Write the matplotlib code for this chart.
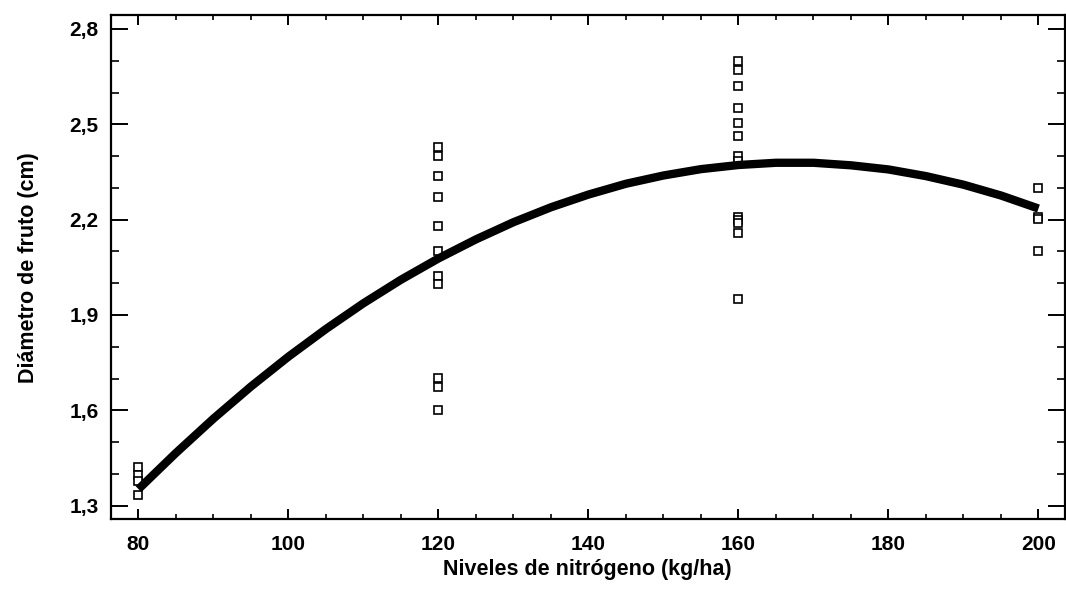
import numpy as np
import matplotlib
matplotlib.use("Agg")
import matplotlib.pyplot as plt
from matplotlib import font_manager
from matplotlib.ticker import MultipleLocator, FuncFormatter

# observed fruit diameters per nitrogen level
x80 = [80, 80, 80, 80]
y80 = [1.423, 1.397, 1.376, 1.334]
x120 = [120] * 11
y120 = [2.428, 2.400, 2.338, 2.270, 2.180, 2.102, 2.024, 1.998, 1.701, 1.673, 1.601]
x160 = [160] * 13
y160 = [2.700, 2.671, 2.621, 2.552, 2.503, 2.463, 2.401, 2.386, 2.209, 2.199, 2.189, 2.159, 1.950]
x200 = [200] * 4
y200 = [2.299, 2.209, 2.202, 2.102]

# fitted curve
curve_x = [80, 85, 90, 95, 100, 105, 110, 115, 120, 125, 130, 135, 140,
           145, 150, 155, 160, 165, 170, 175, 180, 185, 190, 195, 200]
curve_y = [1.352, 1.466, 1.574, 1.675, 1.769, 1.856, 1.937, 2.011, 2.078, 2.138,
           2.192, 2.239, 2.279, 2.313, 2.339, 2.359, 2.372, 2.379, 2.379, 2.371,
           2.358, 2.337, 2.310, 2.276, 2.235]

y_ticks = [1.3, 1.6, 1.9, 2.2, 2.5, 2.8]

try:
    font_manager.findfont("Liberation Sans Narrow", fallback_to_default=False)
    fam = ["Liberation Sans Narrow", "DejaVu Sans"]
    tsize, lsize = 14.5, 15.5
except Exception:
    fam = ["Liberation Sans", "DejaVu Sans"]
    tsize, lsize = 15, 15.5

plt.rcParams["font.family"] = fam
plt.rcParams["font.weight"] = "bold"

fig = plt.figure(figsize=(10.66, 5.91), dpi=100)
ax = fig.add_axes([0.1041, 0.1213, 0.8945, 0.8533])

xs = x80 + x120 + x160 + x200
ys = y80 + y120 + y160 + y200
ax.plot(xs, ys, ls="none", marker="s", ms=5.2, mfc="white", mec="black", mew=1.2, zorder=2)
ax.plot(curve_x, curve_y, color="black", lw=6, solid_capstyle="butt", zorder=3)

ax.set_xlim(76.33, 203.47)
ax.set_ylim(1.257, 2.844)

ax.xaxis.set_major_locator(MultipleLocator(20))
ax.xaxis.set_minor_locator(MultipleLocator(5))
ax.set_yticks(y_ticks)
ax.yaxis.set_minor_locator(MultipleLocator(0.1))
ax.yaxis.set_major_formatter(FuncFormatter(lambda v, p: ("%.1f" % v).replace(".", ",")))

ax.tick_params(axis="x", which="major", direction="in", length=7, width=1.4,
               top=True, labelsize=tsize, pad=11)
ax.tick_params(axis="x", which="minor", direction="in", length=3.6, width=1.2, top=True)
ax.tick_params(axis="y", which="major", direction="in", length=12, width=1.4,
               right=True, labelsize=tsize, pad=9)
ax.tick_params(axis="y", which="minor", direction="in", length=5.8, width=1.2, right=True)
for lab in ax.get_xticklabels() + ax.get_yticklabels():
    lab.set_fontweight("bold")

for s in ax.spines.values():
    s.set_linewidth(1.6)

ax.set_xlabel("Niveles de nitrógeno (kg/ha)", fontsize=lsize, fontweight="bold", labelpad=4)
ax.set_ylabel("Diámetro de fruto (cm)", fontsize=lsize, fontweight="bold", labelpad=22)

fig.savefig("out.png", dpi=100)
